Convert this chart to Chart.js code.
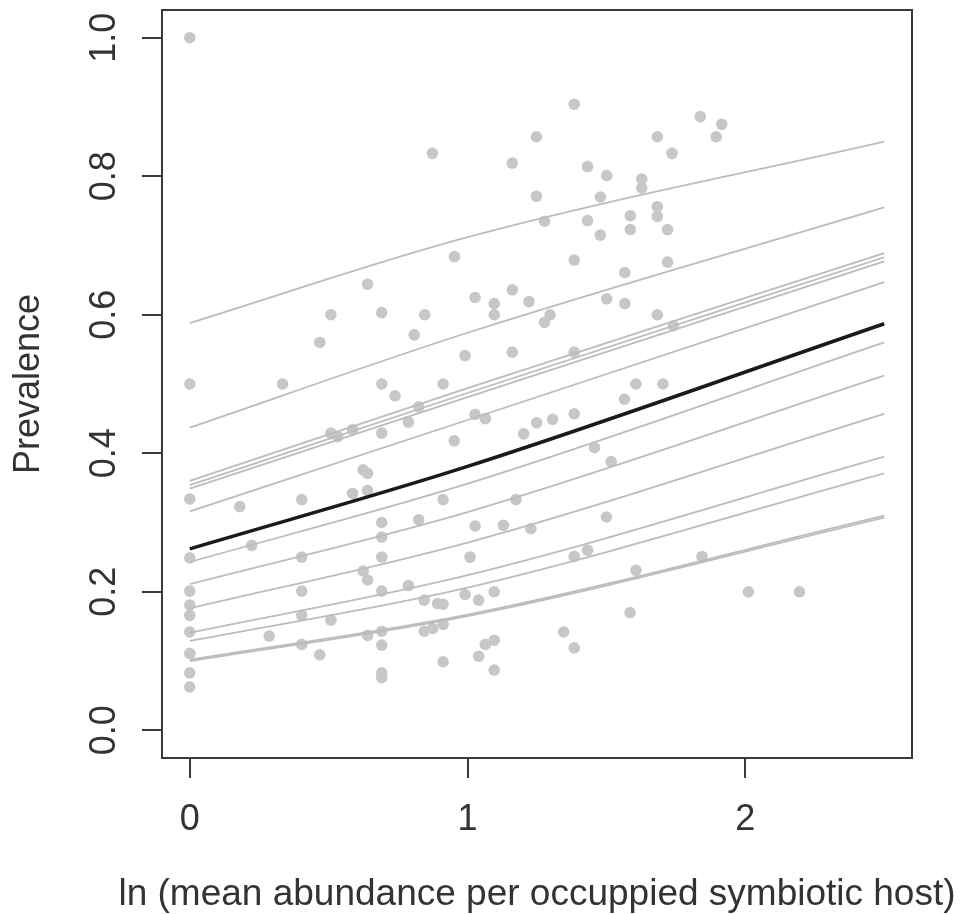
<!DOCTYPE html>
<html><head><meta charset="utf-8">
<script src="https://cdn.jsdelivr.net/npm/chart.js@4"></script>
<style>html,body{margin:0;padding:0;background:#fff;} #wrap{width:963px;height:914px;}</style>
</head><body><div id="wrap"><canvas id="c" width="963" height="914"></canvas></div>
<script>
// observed prevalence per host/site
const obsX = [0, 0.873, 1.161, 1.248, 1.248, 0.953, 0.640, 0.508, 0.691, 0.846,
  0.468, 0.808, 1.027, 1.096, 1.096, 1.161, 1.221, 0.991, 1.161, 1.384,
  1.838, 1.915, 1.895, 1.683, 1.736, 1.432, 1.501, 1.627, 1.627, 1.478,
  1.277, 1.432, 1.586, 1.683, 1.683, 1.478, 1.586, 1.720, 1.384, 1.720,
  1.566, 1.297, 1.277, 1.501, 1.566, 1.683, 1.741, 1.384, 1.606, 1.703,
  0, 0.334, 0.691, 0.912, 0.739, 0.824, 1.027, 1.064, 0.787, 0.586,
  0.508, 0.532, 0.691, 0.952, 1.202, 1.249, 1.306, 1.384, 1.565, 1.457,
  1.517, 0, 0.180, 0.403, 0.624, 0.640, 0.586, 0.640, 0.912, 0.691,
  0.824, 0.691, 1.027, 1.129, 1.174, 1.228, 0.223, 0, 0.403, 0.691,
  1.009, 0.624, 0.640, 0, 0.403, 0.691, 0.787, 0, 0, 0.403,
  0.508, 0.844, 0.892, 0.912, 0.991, 1.040, 1.096, 0, 0.286, 0.403,
  0.640, 0.691, 0.691, 0.844, 0.874, 0.912, 0, 0.468, 0.912, 1.040,
  1.064, 1.096, 1.096, 0, 0, 0.691, 0.691, 1.500, 1.384, 1.432,
  1.606, 1.844, 1.585, 2.011, 2.195, 1.346, 1.384];
const obsY = [1.0, 0.833, 0.819, 0.857, 0.771, 0.684, 0.644, 0.600, 0.603, 0.600,
  0.560, 0.571, 0.625, 0.616, 0.600, 0.636, 0.619, 0.541, 0.546, 0.904,
  0.886, 0.875, 0.857, 0.857, 0.833, 0.814, 0.801, 0.796, 0.783, 0.770,
  0.735, 0.736, 0.743, 0.756, 0.742, 0.715, 0.723, 0.723, 0.679, 0.676,
  0.661, 0.600, 0.589, 0.623, 0.616, 0.600, 0.584, 0.546, 0.500, 0.500,
  0.500, 0.500, 0.500, 0.500, 0.483, 0.467, 0.456, 0.450, 0.445, 0.434,
  0.429, 0.424, 0.429, 0.418, 0.428, 0.444, 0.449, 0.457, 0.478, 0.408,
  0.388, 0.334, 0.323, 0.333, 0.376, 0.371, 0.342, 0.346, 0.333, 0.300,
  0.304, 0.279, 0.295, 0.296, 0.333, 0.291, 0.267, 0.249, 0.250, 0.250,
  0.250, 0.230, 0.217, 0.201, 0.201, 0.201, 0.209, 0.181, 0.166, 0.166,
  0.159, 0.188, 0.183, 0.182, 0.196, 0.188, 0.200, 0.142, 0.136, 0.124,
  0.137, 0.143, 0.123, 0.143, 0.147, 0.153, 0.111, 0.109, 0.099, 0.107,
  0.124, 0.130, 0.087, 0.083, 0.0625, 0.083, 0.076, 0.308, 0.251, 0.260,
  0.231, 0.251, 0.170, 0.200, 0.200, 0.142, 0.119];

// fitted curves (read at x = 0, 1, 2.5)
const curveX = [0, 1, 2.5];
const siteAtZero = [0.588, 0.437, 0.360, 0.354, 0.349, 0.316, 0.243, 0.211, 0.176, 0.141, 0.129, 0.102, 0.100];
const siteAtOne  = [0.712, 0.574, 0.494, 0.487, 0.481, 0.448, 0.356, 0.315, 0.271, 0.224, 0.206, 0.167, 0.165];
const siteAtEnd  = [0.850, 0.755, 0.689, 0.683, 0.677, 0.647, 0.560, 0.512, 0.457, 0.395, 0.371, 0.310, 0.307];
const meanCurve  = [0.262, 0.381, 0.587];

const xTickValues = [0, 1, 2];
const xTickLabels = ['0', '1', '2'];
const yTickValues = [0, 0.2, 0.4, 0.6, 0.8, 1.0];
const yTickLabels = ['0.0', '0.2', '0.4', '0.6', '0.8', '1.0'];
const xTitle = 'ln (mean abundance per occuppied symbiotic host)';
const yTitle = 'Prevalence';

const FONT = '"Liberation Sans", Arial, Helvetica, sans-serif';
const AX = '#3a3a3a';
const TXT = '#333';

const datasets = [];
datasets.push({
  type: 'line', label: 'mean', order: 0,
  data: curveX.map((x, i) => ({x, y: meanCurve[i]})),
  borderColor: '#1a1a1a', borderWidth: 3.5, pointRadius: 0,
  cubicInterpolationMode: 'monotone', fill: false
});
for (let k = 0; k < siteAtZero.length; k++) {
  const vals = [siteAtZero[k], siteAtOne[k], siteAtEnd[k]];
  datasets.push({
    type: 'line', label: 'site' + k, order: 1,
    data: curveX.map((x, i) => ({x, y: vals[i]})),
    borderColor: '#bcbcbc', borderWidth: 1.8, pointRadius: 0,
    cubicInterpolationMode: 'monotone', fill: false
  });
}
datasets.push({
  type: 'scatter', label: 'obs', order: 2,
  data: obsX.map((x, i) => ({x, y: obsY[i]})),
  backgroundColor: '#c7c7ca', borderWidth: 0, pointRadius: 5.8, pointHoverRadius: 5.8
});

// x-axis title drawn centred under the plot box without width compression
const xTitlePlugin = {
  id: 'xTitlePlugin',
  afterDraw(chart) {
    const {ctx, chartArea} = chart;
    ctx.save();
    ctx.font = '37px ' + FONT;
    ctx.fillStyle = TXT;
    ctx.textAlign = 'center';
    ctx.textBaseline = 'alphabetic';
    ctx.fillText(xTitle, (chartArea.left + chartArea.right) / 2, 905);
    ctx.restore();
  }
};

new Chart(document.getElementById('c'), {
  type: 'scatter',
  data: {datasets},
  plugins: [xTitlePlugin],
  options: {
    responsive: false, animation: false, devicePixelRatio: 1,
    layout: {padding: 0},
    plugins: {legend: {display: false}, tooltip: {enabled: false}},
    scales: {
      x: {
        type: 'linear', position: 'bottom', min: -0.1, max: 2.6,
        afterBuildTicks: s => { s.ticks = xTickValues.map(v => ({value: v})); },
        afterFit: s => { s.height = 156; s.paddingLeft = 0; s.paddingRight = 0; },
        grid: {display: true, drawOnChartArea: false, drawTicks: true, tickLength: 20, color: AX, lineWidth: 2},
        border: {display: true, color: AX, width: 2},
        ticks: {
          padding: 20, color: TXT, font: {family: FONT, size: 36},
          callback: (v) => xTickLabels[xTickValues.indexOf(v)], maxRotation: 0, minRotation: 0
        }
      },
      y: {
        type: 'linear', position: 'left', min: -0.04, max: 1.04,
        afterBuildTicks: s => { s.ticks = yTickValues.map(v => ({value: v})); },
        afterFit: s => { s.width = 162; s.paddingTop = 0; s.paddingBottom = 0; },
        grid: {display: true, drawOnChartArea: false, drawTicks: true, tickLength: 20, color: AX, lineWidth: 2},
        border: {display: true, color: AX, width: 2},
        ticks: {
          padding: 12, color: TXT, font: {family: FONT, size: 36}, crossAlign: 'center',
          minRotation: 90, maxRotation: 90,
          callback: (v) => yTickLabels[yTickValues.findIndex(t => Math.abs(t - v) < 1e-9)]
        },
        title: {display: true, text: yTitle, color: TXT, font: {family: FONT, size: 36}, padding: {top: 7, bottom: 0}}
      },
      xTop: {
        type: 'linear', position: 'top', min: -0.1, max: 2.6,
        afterFit: s => { s.height = 10; s.paddingLeft = 0; s.paddingRight = 0; },
        grid: {display: false}, ticks: {display: false},
        border: {display: true, color: AX, width: 2}
      },
      yRight: {
        type: 'linear', position: 'right', min: -0.04, max: 1.04,
        afterFit: s => { s.width = 51; s.paddingTop = 0; s.paddingBottom = 0; },
        grid: {display: false}, ticks: {display: false},
        border: {display: true, color: AX, width: 2}
      }
    }
  }
});
</script>
</body></html>
